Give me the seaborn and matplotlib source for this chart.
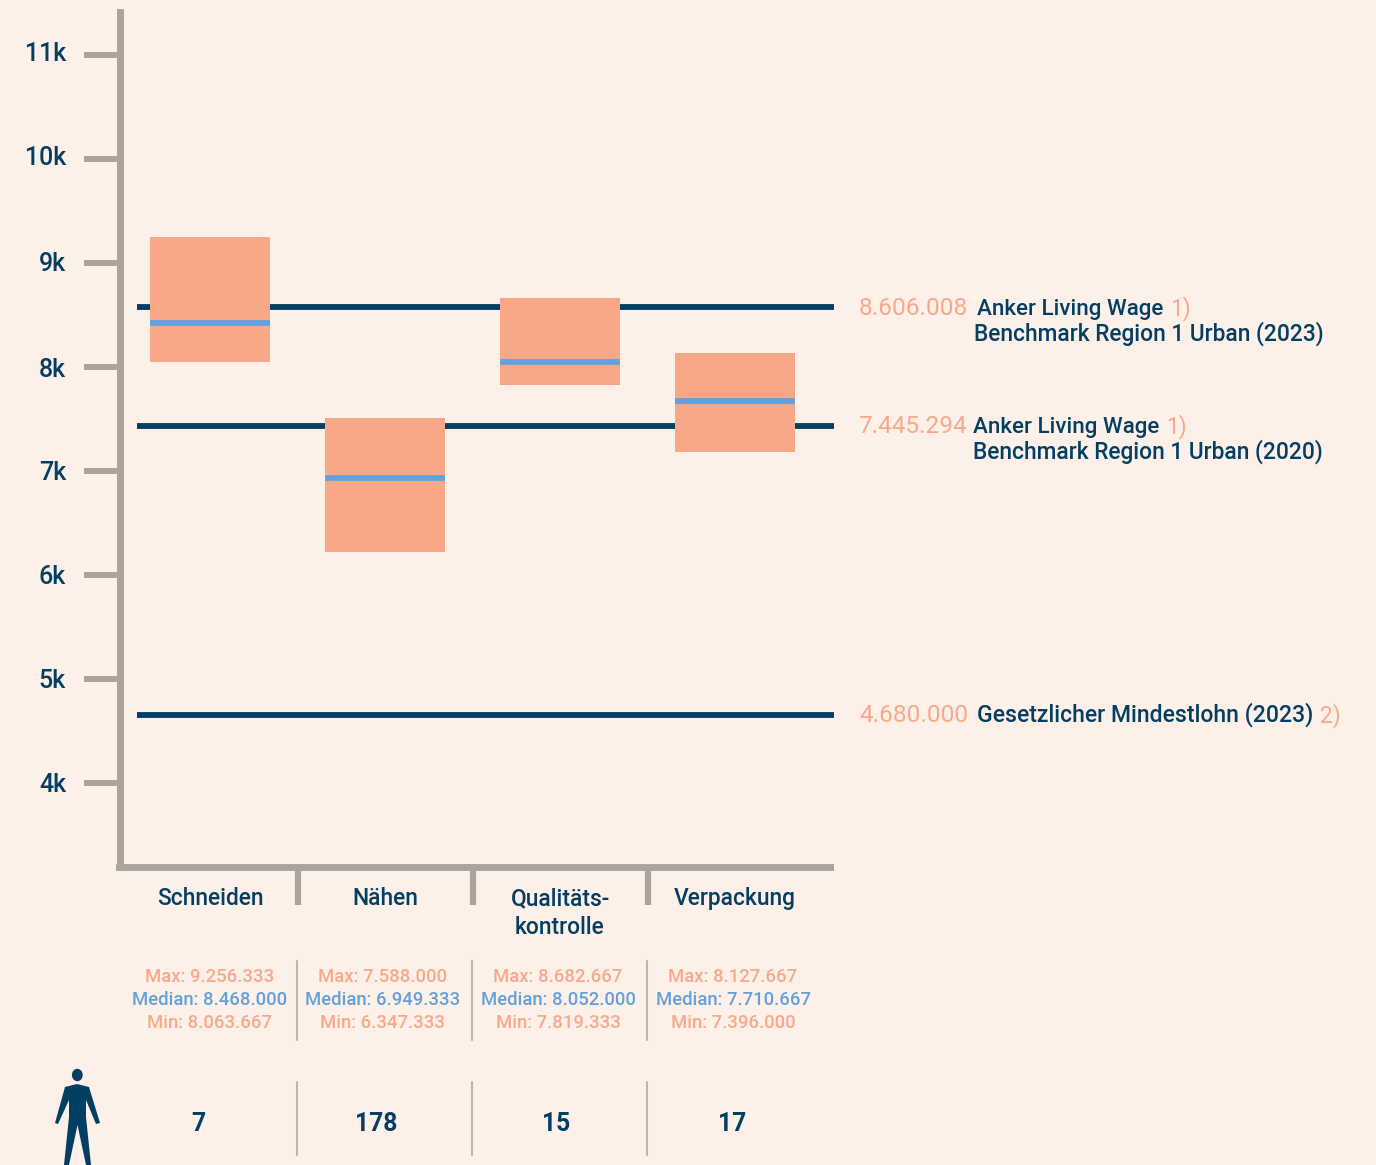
import numpy as np
import pandas as pd
import seaborn as sns
import matplotlib.pyplot as plt
from matplotlib.lines import Line2D
from matplotlib.patches import Polygon, Ellipse
from matplotlib.transforms import blended_transform_factory, ScaledTranslation

# ---- data ----
categories = ["Schneiden", "Nähen", "Qualitäts-\nkontrolle", "Verpackung"]
box_max = [9250, 7510, 8663, 8135]
box_min = [8050, 6221, 7827, 7183]
box_median = [8423, 6933, 8048, 7673]
reference_levels = [8577, 7437, 4655]
y_ticks = [4000, 5000, 6000, 7000, 8000, 9000, 10000, 11000]
y_tick_labels = ["4k", "5k", "6k", "7k", "8k", "9k", "10k", "11k"]
stat_max = ["Max: 9.256.333", "Max: 7.588.000", "Max: 8.682.667", "Max: 8.127.667"]
stat_median = ["Median: 8.468.000", "Median: 6.949.333", "Median: 8.052.000", "Median: 7.710.667"]
stat_min = ["Min: 8.063.667", "Min: 6.347.333", "Min: 7.819.333", "Min: 7.396.000"]
counts = ["7", "178", "15", "17"]

BG = "#FDF0E9"
BAR = "#F8A886"
ORANGE = "#F9A98A"
BLUE = "#64A0DC"
DARK = "#033E63"
GREY = "#ABA49C"
SEP = "#BDB5AD"
W, H = 1376, 1165

sns.set_theme(style="white")
plt.rcParams["font.family"] = ["Roboto", "DejaVu Sans"]

fig = plt.figure(figsize=(W / 100, H / 100), dpi=100, facecolor=BG)


def fx(px):
    return px / W


def fy(py):
    return 1 - py / H


ax_l, ax_r, ax_t, ax_b = 119.5, 830, 12, 867
ax = fig.add_axes([fx(ax_l), fy(ax_b), (ax_r - ax_l) / W, (ax_b - ax_t) / H])
ax.set_facecolor("none")

df = pd.DataFrame({"category": categories,
                   "height": np.array(box_max) - np.array(box_min)})
sns.barplot(data=df, x="category", y="height", bottom=box_min, color=BAR,
            saturation=1, width=0.69, ax=ax, zorder=3, linewidth=0)

px_per_unit = 0.104
ax.set_ylim(4000 - (ax_b - 783) / px_per_unit, 4000 + (783 - ax_t) / px_per_unit)
ax.set_xlim((ax_l - 210) / 175, (ax_r - 210) / 175)

line_start = (137 - 210) / 175
line_end = (833.5 - 210) / 175
ax.hlines(reference_levels, line_start, line_end, color=DARK, lw=4.2, zorder=2, clip_on=False)
for i, m in enumerate(box_median):
    ax.hlines(m, i - 0.345, i + 0.345, color=BLUE, lw=4.2, zorder=4)

for s in ("top", "right"):
    ax.spines[s].set_visible(False)
for s in ("left", "bottom"):
    ax.spines[s].set_color(GREY)
    ax.spines[s].set_linewidth(5)

ax.set_yticks(y_ticks)
ax.set_yticklabels(y_tick_labels)
ax.tick_params(axis="y", length=26, width=4.3, color=GREY, pad=12.5, left=True,
               labelcolor=DARK, labelsize=18)
label_shift_px = [-1, -1, -1, -1, 0, -2, -4, -4]
for lab, dy in zip(ax.get_yticklabels(), label_shift_px):
    lab.set_fontweight("medium")
    lab.set_transform(lab.get_transform() + ScaledTranslation(0, -dy / 100, fig.dpi_scale_trans))
ax.set_xticks([0.5, 1.5, 2.5])
ax.set_xticklabels(["", "", ""])
ax.tick_params(axis="x", length=27, width=4.5, color=GREY, bottom=True)
ax.set_xlabel("")
ax.set_ylabel("")


def t(px, py, s, color=DARK, size=16.4, ha="left", weight="medium"):
    fig.text(fx(px), fy(py), s, color=color, fontsize=size, ha=ha, va="baseline",
             fontweight=weight)


# category labels
trans = blended_transform_factory(ax.transData, fig.transFigure)
cat_y = [(905,), (905,), (905, 934), (905,)]
for i, c in enumerate(categories):
    for part, py in zip(c.split("\n"), cat_y[i]):
        ax.text(i, fy(py), part, transform=trans, color=DARK, fontsize=16.4,
                ha="center", va="baseline", fontweight="medium", clip_on=False)

# stats block
stat_x = [209.5, 383, 558, 733]
for x, a, b, c in zip(stat_x, stat_max, stat_median, stat_min):
    t(x, 982, a, ORANGE, 13.3, "center", "medium")
    t(x, 1005, b, BLUE, 13.3, "center", "medium")
    t(x, 1028, c, ORANGE, 13.3, "center", "medium")

# counts
count_x = [198, 376, 556, 732]
for x, s in zip(count_x, counts):
    t(x, 1131, s, DARK, 17.8, "center", "bold")

# separators
for x in (297, 472, 647):
    for y0, y1 in ((961, 1040), (1082, 1155)):
        fig.add_artist(Line2D([fx(x), fx(x)], [fy(y0), fy(y1)], color=SEP, lw=1.5,
                              transform=fig.transFigure))

# reference annotations
NUM = 17.6
t(859, 315, "8.606.008", ORANGE, NUM, weight="normal")
t(977, 315, "Anker Living Wage", size=16.1)
t(1170, 315, "1)", ORANGE, weight="normal")
t(974, 341, "Benchmark Region 1 Urban (2023)")
t(858, 433, "7.445.294", ORANGE, NUM, weight="normal")
t(973, 433, "Anker Living Wage", size=16.1)
t(1166, 433, "1)", ORANGE, weight="normal")
t(973, 459, "Benchmark Region 1 Urban (2020)")
t(859, 722, "4.680.000", ORANGE, NUM, weight="normal")
t(977, 722, "Gesetzlicher Mindestlohn (2023)", size=16.6)
t(1320, 722, "2)", ORANGE, weight="normal")

# person icon
icon = fig.add_axes([fx(50), fy(1165), 55 / W, 100 / H])
icon.set_xlim(50, 105)
icon.set_ylim(1165, 1065)
icon.axis("off")
outline = [(65, 1087), (77, 1084), (89, 1087), (100, 1123), (96, 1124), (86, 1100),
           (86, 1117), (91, 1165), (86, 1165), (77.5, 1125), (69, 1165), (64, 1165),
           (69, 1117), (69, 1100), (58, 1124), (55, 1123)]
icon.add_patch(Polygon(outline, closed=True, color=DARK, lw=0))
icon.add_patch(Ellipse((77.3, 1075), 10.8, 12.4, color=DARK, lw=0))

fig.savefig("out.png", dpi=100, facecolor=BG)
